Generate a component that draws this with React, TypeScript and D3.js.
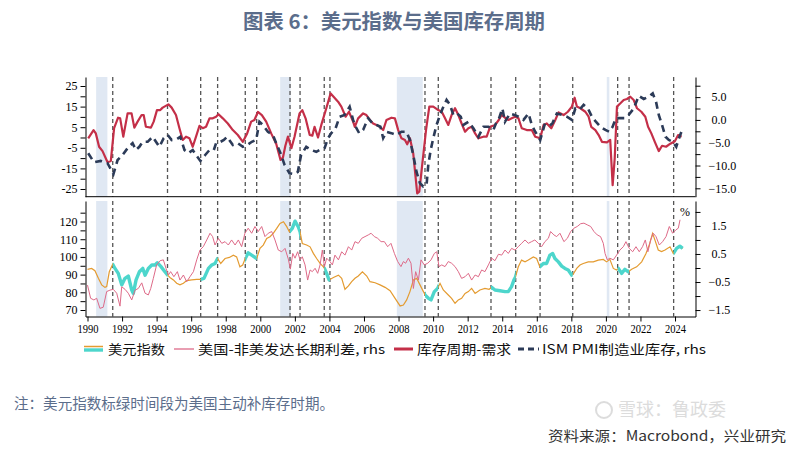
import React, { useEffect, useRef } from 'react';
import * as d3 from 'd3';

type Pt = [number, number];

// 库存周期-需求 (left axis, top panel)
const inventoryCycle: Pt[] = [
  [1990.04, -0.4], [1990.35, 3.6], [1990.48, 2.0], [1990.67, -4.5], [1990.87, -6.6], [1991.16, -12.0],
  [1991.35, -11.4], [1991.54, 4.5], [1991.77, 9.6], [1991.89, 9.3], [1992.07, 0.4], [1992.32, 11.7],
  [1992.55, 11.7], [1992.71, 4.8], [1992.9, 7.7], [1993.13, 10.9], [1993.25, 10.9], [1993.38, 5.2],
  [1993.67, 4.8], [1993.83, 7.7], [1994.02, 13.3], [1994.21, 13.3], [1994.35, 14.5], [1994.68, 16.1],
  [1994.87, 14.5], [1995.12, 10.9], [1995.32, 4.5], [1995.51, -1.2], [1995.7, 0.4], [1995.9, -0.4],
  [1996.09, -4.5], [1996.28, 0.4], [1996.48, 5.7], [1996.67, 4.5], [1996.86, 5.2], [1997.06, 9.3],
  [1997.25, 9.3], [1997.44, 10.1], [1997.58, 11.3], [1997.83, 9.3], [1998.12, 6.8], [1998.41, 3.6],
  [1998.7, 1.2], [1998.99, -2.1], [1999.24, 2.0], [1999.47, 7.7], [1999.66, 8.5], [1999.86, 12.4],
  [2000.09, 10.9], [2000.34, 7.7], [2000.63, 2.0], [2000.92, -3.0], [2001.17, -10.9], [2001.31, -9.7],
  [2001.45, -4.0], [2001.6, 0.4], [2001.8, -5.2], [2001.98, 0.4], [2002.27, 11.7], [2002.43, 13.3],
  [2002.62, 9.3], [2002.86, 1.2], [2003.01, 0.9], [2003.14, 5.2], [2003.34, 0.0], [2003.53, 6.1],
  [2003.82, 14.2], [2004.07, 21.4], [2004.24, 19.8], [2004.5, 17.4], [2004.69, 15.0], [2004.94, 10.1],
  [2005.13, 12.5], [2005.37, 7.7], [2005.47, 5.2], [2005.66, 9.3], [2005.95, 11.7], [2006.14, 10.9],
  [2006.34, 8.5], [2006.53, 6.8], [2006.72, 6.1], [2006.92, 5.2], [2007.11, 3.6], [2007.3, 8.5],
  [2007.59, 9.6], [2007.79, 9.3], [2007.98, 3.6], [2008.17, -0.4], [2008.37, -1.2], [2008.5, -3.3],
  [2008.66, -0.4], [2008.85, -7.7], [2009.08, -27.1], [2009.2, -26.3], [2009.39, -11.7], [2009.59, 3.6],
  [2009.78, 15.0], [2010.01, 15.0], [2010.3, 13.3], [2010.5, 12.5], [2010.69, 9.3], [2010.88, 6.1],
  [2011.07, 10.9], [2011.27, 14.2], [2011.46, 10.9], [2011.65, 6.8], [2011.85, 2.8], [2012.04, 4.5],
  [2012.23, 5.2], [2012.43, 2.0], [2012.62, -0.4], [2012.91, 0.4], [2013.1, 0.4], [2013.3, 5.2],
  [2013.59, 6.1], [2013.8, 8.5], [2013.97, 10.9], [2014.16, 9.6], [2014.36, 8.5], [2014.55, 9.3],
  [2014.75, 10.1], [2014.94, 9.3], [2015.13, 4.5], [2015.42, 3.6], [2015.71, 3.6], [2015.91, 0.4],
  [2016.2, -0.4], [2016.39, 6.1], [2016.58, 6.8], [2016.84, 4.5], [2017.07, 8.5], [2017.26, 12.2],
  [2017.55, 10.9], [2017.8, 12.5], [2018.03, 15.0], [2018.19, 19.3], [2018.32, 15.0], [2018.52, 14.2],
  [2018.81, 12.5], [2019.0, 10.1], [2019.15, 5.2], [2019.39, 3.6], [2019.58, 1.2], [2019.77, -2.1],
  [2020.06, -2.4], [2020.25, -1.2], [2020.39, -23.1], [2020.51, -10.1], [2020.64, 15.0], [2020.84, 16.6],
  [2021.03, 18.2], [2021.22, 18.7], [2021.41, 19.8], [2021.61, 18.2], [2021.8, 14.2], [2022.05, 12.5],
  [2022.28, 10.1], [2022.44, 5.2], [2022.63, 2.0], [2022.83, -2.1], [2023.06, -6.6], [2023.25, -4.0],
  [2023.48, -4.5], [2023.73, -3.0], [2023.99, -1.8], [2024.18, 1.2], [2024.38, 0.4],
];

// ISM PMI制造业库存 (right axis, top panel)
const ismInventory: Pt[] = [
  [1990.04, -7.3], [1990.38, -9.3], [1990.77, -9.0], [1991.16, -9.5], [1991.5, -11.9], [1991.74, -8.8],
  [1992.03, -7.7], [1992.32, -6.2], [1992.61, -5.1], [1992.8, -6.6], [1993.0, -5.9], [1993.19, -4.8],
  [1993.48, -4.8], [1993.77, -3.7], [1994.02, -5.1], [1994.16, -5.9], [1994.41, -4.0], [1994.64, -3.3],
  [1994.87, -4.4], [1995.18, -4.2], [1995.37, -3.7], [1995.61, -6.6], [1995.84, -7.3], [1996.09, -6.6],
  [1996.28, -7.7], [1996.53, -9.0], [1996.81, -7.7], [1997.06, -6.6], [1997.31, -6.6], [1997.44, -5.1],
  [1997.7, -4.8], [1997.89, -4.4], [1998.08, -3.7], [1998.41, -5.5], [1998.7, -5.1], [1998.99, -5.9],
  [1999.24, -5.5], [1999.51, -4.8], [1999.76, -4.4], [1999.95, -0.4], [2000.15, -1.1], [2000.44, -2.6],
  [2000.73, -3.3], [2000.92, -5.1], [2001.17, -7.3], [2001.4, -9.8], [2001.69, -11.7], [2001.98, -11.9],
  [2002.17, -11.4], [2002.36, -7.7], [2002.66, -5.9], [2002.95, -6.6], [2003.24, -7.0], [2003.53, -6.4],
  [2003.72, -6.2], [2003.92, -4.0], [2004.11, -2.9], [2004.36, -1.8], [2004.59, 0.7], [2004.88, 1.1],
  [2005.17, 2.9], [2005.37, 0.0], [2005.52, -1.5], [2005.72, -2.9], [2005.95, -2.2], [2006.24, 0.4],
  [2006.49, -0.7], [2006.72, -1.1], [2006.95, -1.5], [2007.11, -4.0], [2007.3, -2.6], [2007.59, -2.9],
  [2007.88, -3.3], [2008.17, -2.6], [2008.46, -2.6], [2008.66, -4.4], [2008.85, -7.7], [2009.04, -11.4],
  [2009.24, -13.9], [2009.43, -14.6], [2009.62, -14.3], [2009.72, -9.9], [2009.86, -6.6], [2010.01, -4.0],
  [2010.2, -1.1], [2010.4, 1.1], [2010.55, 2.5], [2010.78, 4.4], [2010.98, 3.3], [2011.17, 1.1],
  [2011.37, 1.5], [2011.6, 0.7], [2011.75, -1.1], [2012.04, -0.4], [2012.33, -1.8], [2012.62, -3.7],
  [2012.91, -1.5], [2013.2, -1.5], [2013.49, -2.2], [2013.62, -0.9], [2013.82, 0.4], [2014.01, 2.5],
  [2014.16, -0.4], [2014.45, 1.4], [2014.71, 1.1], [2014.94, 0.7], [2015.23, 0.0], [2015.52, 1.4],
  [2015.71, -1.1], [2015.91, -2.6], [2016.2, -4.4], [2016.45, -1.1], [2016.68, -1.5], [2016.91, -0.7],
  [2017.16, 1.4], [2017.45, 1.1], [2017.74, 0.7], [2018.03, 0.0], [2018.23, 2.5], [2018.46, 2.2],
  [2018.71, 3.3], [2018.96, 2.5], [2019.19, 0.7], [2019.42, -0.4], [2019.68, -1.5], [2019.97, -2.2],
  [2020.2, -2.6], [2020.39, -1.5], [2020.58, 0.4], [2020.84, 0.4], [2021.09, 0.4], [2021.32, 1.1],
  [2021.61, 2.5], [2021.9, 5.3], [2022.19, 4.6], [2022.48, 5.1], [2022.71, 5.8], [2022.9, 4.0],
  [2023.06, 1.1], [2023.25, -1.1], [2023.45, -3.7], [2023.64, -4.4], [2023.87, -4.8], [2024.07, -5.9],
  [2024.26, -3.7], [2024.45, -1.8],
];

// 美元指数 (left axis, bottom panel)
const dollarIndex: Pt[] = [
  [1990.0, 93.0], [1990.24, 93.5], [1990.43, 92.2], [1990.63, 87.9], [1990.82, 84.2], [1991.01, 82.8],
  [1991.11, 83.2], [1991.26, 91.6], [1991.46, 95.9], [1991.59, 93.5], [1991.78, 90.7], [1991.98, 84.2],
  [1992.17, 87.9], [1992.36, 89.2], [1992.56, 81.3], [1992.65, 79.4], [1992.81, 87.0], [1993.0, 91.6],
  [1993.2, 93.5], [1993.33, 89.7], [1993.52, 93.5], [1993.72, 95.4], [1993.91, 95.4], [1994.04, 96.7],
  [1994.23, 94.8], [1994.48, 91.6], [1994.64, 89.7], [1994.77, 88.4], [1994.97, 87.0], [1995.16, 85.1],
  [1995.35, 84.2], [1995.55, 85.1], [1995.74, 86.6], [1996.03, 87.0], [1996.32, 87.3], [1996.55, 87.3],
  [1996.74, 87.9], [1997.0, 93.5], [1997.19, 95.4], [1997.38, 96.3], [1997.53, 99.1], [1997.71, 96.3],
  [1997.96, 99.1], [1998.21, 99.7], [1998.44, 101.0], [1998.63, 100.0], [1998.82, 94.4], [1998.98, 95.4],
  [1999.13, 99.1], [1999.3, 102.3], [1999.5, 101.0], [1999.79, 99.1], [1999.98, 104.8], [2000.17, 106.7],
  [2000.37, 110.4], [2000.56, 111.4], [2000.75, 113.3], [2000.95, 116.1], [2001.14, 118.9], [2001.34, 119.9],
  [2001.53, 117.1], [2001.68, 114.2], [2001.85, 116.1], [2002.01, 120.2], [2002.2, 116.9], [2002.3, 114.2],
  [2002.43, 107.6], [2002.68, 106.7], [2002.88, 105.7], [2003.07, 102.0], [2003.26, 99.1], [2003.46, 96.3],
  [2003.65, 94.4], [2003.71, 93.5], [2003.84, 90.7], [2003.98, 87.0], [2004.23, 88.4], [2004.52, 89.7],
  [2004.71, 87.9], [2004.9, 81.7], [2005.1, 83.6], [2005.29, 86.0], [2005.48, 87.9], [2005.67, 89.2],
  [2005.91, 91.6], [2006.16, 89.2], [2006.35, 86.0], [2006.64, 85.4], [2006.93, 84.2], [2007.22, 82.8],
  [2007.51, 80.9], [2007.8, 76.6], [2008.09, 72.3], [2008.28, 72.8], [2008.47, 75.7], [2008.66, 80.4],
  [2008.86, 87.0], [2009.05, 87.9], [2009.24, 84.2], [2009.44, 80.4], [2009.53, 78.5], [2009.73, 76.6],
  [2009.88, 75.7], [2010.07, 80.4], [2010.26, 82.2], [2010.4, 85.1], [2010.59, 81.3], [2010.88, 78.5],
  [2011.07, 76.6], [2011.27, 73.8], [2011.46, 75.7], [2011.65, 76.6], [2011.85, 79.4], [2012.04, 80.4],
  [2012.23, 82.2], [2012.43, 79.4], [2012.71, 81.3], [2013.0, 82.2], [2013.24, 81.7], [2013.39, 82.8],
  [2013.58, 81.3], [2013.87, 80.9], [2014.16, 80.4], [2014.35, 80.4], [2014.54, 83.2], [2014.68, 87.0],
  [2014.76, 88.4], [2014.93, 94.4], [2015.12, 98.2], [2015.32, 97.2], [2015.51, 98.2], [2015.8, 100.0],
  [2015.99, 99.1], [2016.18, 94.4], [2016.38, 96.3], [2016.57, 96.3], [2016.76, 101.0], [2016.92, 101.9],
  [2017.05, 99.1], [2017.25, 97.2], [2017.44, 94.8], [2017.63, 93.5], [2017.82, 92.6], [2018.02, 89.7],
  [2018.11, 90.3], [2018.31, 93.5], [2018.5, 95.4], [2018.69, 96.3], [2018.98, 97.2], [2019.27, 97.2],
  [2019.56, 98.2], [2019.85, 98.6], [2020.04, 97.2], [2020.23, 98.6], [2020.43, 93.5], [2020.62, 92.6],
  [2020.72, 93.5], [2020.91, 90.7], [2021.1, 93.0], [2021.3, 91.6], [2021.49, 93.0], [2021.78, 94.4],
  [2022.07, 97.2], [2022.32, 101.9], [2022.51, 106.7], [2022.7, 113.3], [2022.84, 109.5], [2023.03, 103.9],
  [2023.22, 103.0], [2023.42, 103.9], [2023.71, 105.7], [2023.9, 101.9], [2024.09, 104.8], [2024.28, 106.1],
  [2024.44, 104.8],
];

// 美国-非美发达长期利差 (right axis, bottom panel)
const rateSpread: Pt[] = [
  [1990.0, -0.61], [1990.18, -1.08], [1990.37, -1.14], [1990.53, -1.08], [1990.72, -1.44], [1990.91, -1.4],
  [1991.11, -0.84], [1991.3, -0.79], [1991.49, -0.76], [1991.69, -0.9], [1991.88, -1.36], [1991.98, -0.67],
  [1992.17, -0.76], [1992.36, -0.9], [1992.56, -1.14], [1992.75, -0.79], [1992.94, -0.73], [1993.14, -0.53],
  [1993.33, -0.9], [1993.52, -0.96], [1993.66, -0.73], [1993.81, -0.37], [1994.0, 0.11], [1994.2, 0.26],
  [1994.39, 0.29], [1994.54, -0.01], [1994.68, -0.25], [1994.81, -0.13], [1995.0, -0.31], [1995.2, -0.13],
  [1995.35, -0.43], [1995.55, -0.25], [1995.74, -0.49], [1995.93, -0.31], [1996.13, -0.13], [1996.32, 0.29],
  [1996.51, 0.64], [1996.7, 0.76], [1996.9, 1.0], [1997.09, 1.24], [1997.24, 1.12], [1997.38, 0.82],
  [1997.57, 1.06], [1997.77, 0.88], [1997.96, 0.94], [1998.15, 0.82], [1998.34, 1.0], [1998.54, 0.82],
  [1998.73, 1.0], [1998.92, 0.76], [1999.11, 1.24], [1999.3, 1.42], [1999.5, 1.24], [1999.69, 1.48],
  [1999.88, 1.3], [2000.08, 1.48], [2000.27, 1.12], [2000.46, 1.24], [2000.66, 1.3], [2000.85, 1.0],
  [2001.04, 0.64], [2001.24, 0.58], [2001.43, 0.7], [2001.62, 0.32], [2001.74, -0.04], [2001.88, 0.52],
  [2002.01, 0.35], [2002.16, 0.58], [2002.3, 0.29], [2002.43, 0.4], [2002.59, 0.11], [2002.74, -0.43],
  [2002.88, -0.07], [2003.01, -0.13], [2003.17, -0.01], [2003.32, -0.19], [2003.46, 0.11], [2003.59, 0.64],
  [2003.71, 0.05], [2003.84, 0.35], [2004.03, 0.23], [2004.17, 0.11], [2004.32, 0.46], [2004.52, 0.29],
  [2004.71, 0.58], [2004.9, 0.46], [2005.1, 0.76], [2005.29, 0.64], [2005.48, 0.94], [2005.67, 0.88],
  [2005.87, 1.06], [2006.06, 1.12], [2006.25, 1.18], [2006.41, 1.24], [2006.6, 1.12], [2006.79, 1.06],
  [2006.99, 0.94], [2007.18, 0.94], [2007.37, 0.76], [2007.56, 0.88], [2007.76, 0.52], [2007.95, 0.23],
  [2008.14, 0.05], [2008.28, 0.23], [2008.41, 0.17], [2008.57, 0.35], [2008.72, 0.17], [2008.86, -0.73],
  [2008.99, -0.13], [2009.15, -0.43], [2009.3, 0.29], [2009.49, 0.11], [2009.69, 0.17], [2009.88, 0.29],
  [2010.07, 0.52], [2010.21, 0.58], [2010.34, 0.05], [2010.5, 0.11], [2010.69, 0.05], [2010.88, 0.23],
  [2011.07, 0.17], [2011.27, 0.05], [2011.46, -0.13], [2011.65, -0.37], [2011.85, -0.31], [2012.04, -0.19],
  [2012.23, -0.43], [2012.43, -0.25], [2012.62, -0.31], [2012.81, -0.07], [2013.0, -0.13], [2013.2, 0.11],
  [2013.39, 0.35], [2013.58, 0.26], [2013.78, 0.49], [2013.97, 0.46], [2014.16, 0.64], [2014.35, 0.52],
  [2014.54, 0.7], [2014.74, 0.64], [2014.93, 0.76], [2015.12, 0.88], [2015.32, 1.0], [2015.51, 0.88],
  [2015.7, 0.94], [2015.89, 1.0], [2016.09, 0.88], [2016.28, 0.76], [2016.47, 0.94], [2016.67, 1.06],
  [2016.8, 1.3], [2016.99, 1.18], [2017.15, 1.12], [2017.34, 1.24], [2017.57, 0.94], [2017.77, 1.06],
  [2017.96, 1.3], [2018.15, 1.42], [2018.34, 1.48], [2018.54, 1.58], [2018.73, 1.6], [2018.92, 1.54],
  [2019.12, 1.48], [2019.31, 1.3], [2019.5, 1.18], [2019.69, 1.12], [2019.85, 0.88], [2019.95, 0.52],
  [2020.08, 0.29], [2020.23, 0.35], [2020.43, 0.29], [2020.62, 0.46], [2020.81, 0.64], [2021.01, 0.76],
  [2021.16, 0.94], [2021.35, 0.7], [2021.55, 0.58], [2021.74, 0.76], [2021.93, 0.58], [2022.12, 0.76],
  [2022.28, 1.0], [2022.43, 0.58], [2022.59, 1.0], [2022.74, 1.24], [2022.9, 1.12], [2023.09, 0.82],
  [2023.28, 0.94], [2023.48, 1.12], [2023.67, 1.48], [2023.86, 1.24], [2024.05, 1.36], [2024.19, 1.42],
  [2024.29, 1.72],
];

// 美国主动补库存时期 (start, end); last one still running
const restockPeriods: [number, number | null][] = [
  [1991.46, 1994.63], [1996.55, 1997.53], [1999.13, 1999.79], [2001.72, 2002.3], [2003.7, 2004.03],
  [2009.53, 2010.3], [2013.35, 2014.78], [2016.19, 2018.08], [2020.68, 2021.34], [2023.92, null],
];

// 美国衰退 (shaded)
const recessions: [number, number][] = [
  [1990.5, 1991.15], [2001.15, 2001.75], [2007.9, 2009.4], [2020.05, 2020.2],
];

const yearTicks = [1990, 1992, 1994, 1996, 1998, 2000, 2002, 2004, 2006, 2008, 2010, 2012, 2014, 2016, 2018, 2020, 2022, 2024];
const topLeftTicks = [-25, -20, -15, -10, -5, 0, 5, 10, 15, 20, 25];
const topLeftLabels = [-25, -15, -5, 5, 15, 25];
const topRightTicks = [-15, -12.5, -10, -7.5, -5, -2.5, 0, 2.5, 5, 7.5];
const topRightLabels = [-15, -10, -5, 0, 5];
const botLeftTicks = [70, 75, 80, 85, 90, 95, 100, 105, 110, 115, 120, 125];
const botLeftLabels = [70, 80, 90, 100, 110, 120];
const botRightTicks = [-1.5, -1, -0.5, 0, 0.5, 1, 1.5, 2];
const botRightLabels = [-1.5, -0.5, 0.5, 1.5];

const C = {
  red: '#c42f48',
  navy: '#2c3b58',
  orange: '#e49b30',
  green: '#4dd6cc',
  pink: '#de6a88',
  band: '#e0e8f3',
  grid: '#555',
  title: '#5b6d8b',
};

const SERIF = '"Liberation Serif", "Times New Roman", serif';
const CJK = '"Noto Sans CJK SC", "Noto Sans", sans-serif';

export default function App() {
  const svgRef = useRef<SVGSVGElement>(null);

  useEffect(() => {
    if (!svgRef.current) return;
    const svg = d3.select(svgRef.current);
    svg.selectAll('*').remove();

    const X0 = 85.5;
    const X1 = 695.5;
    const top = { y0: 77, y1: 196.7 };
    const bot = { y0: 201, y1: 316.5 };

    const x = d3.scaleLinear().domain([1989.884, 2025.185]).range([X0, X1]);
    const yTL = d3.scaleLinear().domain([-28.74, 29.37]).range([top.y1, top.y0]);
    const yTR = d3.scaleLinear().domain([-16.84, 9.41]).range([top.y1, top.y0]);
    const yBL = d3.scaleLinear().domain([66.33, 131.6]).range([bot.y1, bot.y0]);
    const yBR = d3.scaleLinear().domain([-1.73, 2.39]).range([bot.y1, bot.y0]);

    svg.append('rect').attr('width', 789).attr('height', 452).attr('fill', '#fff');

    // Title
    svg.append('text')
      .attr('x', 394).attr('y', 28.5)
      .attr('text-anchor', 'middle')
      .attr('font-family', CJK).attr('font-size', 20).attr('font-weight', 'bold')
      .attr('fill', C.title)
      .attr('textLength', 302).attr('lengthAdjust', 'spacingAndGlyphs')
      .text('图表 6：美元指数与美国库存周期');

    const lastYear = d3.max(dollarIndex, (d) => d[0]) as number;

    // clip path for green restocking segments
    const defs = svg.append('defs');
    const clip = defs.append('clipPath').attr('id', 'restock-clip');
    restockPeriods.forEach(([s, e]) => {
      clip.append('rect')
        .attr('x', x(s)).attr('y', bot.y0)
        .attr('width', x(e ?? lastYear + 0.2) - x(s)).attr('height', bot.y1 - bot.y0);
    });

    [top, bot].forEach((p) => {
      const g = svg.append('g');
      // recession bands
      g.selectAll('rect.band')
        .data(recessions)
        .enter()
        .append('rect')
        .attr('x', (d) => x(d[0]))
        .attr('y', p.y0)
        .attr('width', (d) => x(d[1]) - x(d[0]))
        .attr('height', p.y1 - p.y0)
        .attr('fill', C.band);
      // restocking boundary lines
      const bounds: number[] = [];
      restockPeriods.forEach(([s, e]) => {
        bounds.push(s);
        if (e !== null) bounds.push(e);
      });
      g.selectAll('line.grid')
        .data(bounds)
        .enter()
        .append('line')
        .attr('x1', (d) => x(d)).attr('x2', (d) => x(d))
        .attr('y1', p.y0).attr('y2', p.y1)
        .attr('stroke', C.grid).attr('stroke-width', 1.3)
        .attr('stroke-dasharray', '4,3');
    });

    const line = (ys: d3.ScaleLinear<number, number>) =>
      d3.line<Pt>().x((d) => x(d[0])).y((d) => ys(d[1]));

    // Top panel lines
    svg.append('path')
      .attr('d', line(yTL)(inventoryCycle) as string)
      .attr('fill', 'none').attr('stroke', C.red).attr('stroke-width', 2.2)
      .attr('stroke-linejoin', 'round');
    svg.append('path')
      .attr('d', line(yTR)(ismInventory) as string)
      .attr('fill', 'none').attr('stroke', C.navy).attr('stroke-width', 2.6)
      .attr('stroke-dasharray', '7,5');

    // Bottom panel lines
    svg.append('path')
      .attr('d', line(yBL)(dollarIndex) as string)
      .attr('fill', 'none').attr('stroke', C.orange).attr('stroke-width', 1.2);
    svg.append('path')
      .attr('d', line(yBL)(dollarIndex) as string)
      .attr('clip-path', 'url(#restock-clip)')
      .attr('fill', 'none').attr('stroke', C.green).attr('stroke-width', 3.4)
      .attr('stroke-linejoin', 'round');
    svg.append('path')
      .attr('d', line(yBR)(rateSpread) as string)
      .attr('fill', 'none').attr('stroke', C.pink).attr('stroke-width', 1);

    // Axes
    const styleAxis = (g: d3.Selection<SVGGElement, unknown, null, undefined>) => {
      g.select('.domain').attr('stroke', '#000').attr('stroke-width', 1);
      g.selectAll('.tick line').attr('stroke', '#000');
      g.selectAll('.tick text')
        .attr('font-family', SERIF).attr('font-size', 12).attr('fill', '#000');
    };
    const fmtInt = (labels: number[]) => (v: d3.NumberValue) =>
      labels.includes(+v) ? String(v) : '';
    const fmtDec = (labels: number[]) => (v: d3.NumberValue) =>
      labels.includes(+v) ? d3.format('.1f')(+v) : '';

    svg.append('g')
      .attr('transform', `translate(${X0},0)`)
      .call(d3.axisLeft(yTL).tickValues(topLeftTicks).tickSize(5).tickSizeOuter(0).tickPadding(3)
        .tickFormat(fmtInt(topLeftLabels)))
      .call(styleAxis);
    const tr = svg.append('g')
      .attr('transform', `translate(${X1},0)`)
      .call(d3.axisRight(yTR).tickValues(topRightTicks).tickSize(5).tickSizeOuter(0).tickPadding(8)
        .tickFormat(fmtDec(topRightLabels)))
      .call(styleAxis);
    tr.selectAll<SVGTextElement, number>('.tick text').attr('dx', (d) => (d >= 0 ? 3 : 0));

    svg.append('line')
      .attr('x1', X0).attr('x2', X1).attr('y1', top.y1).attr('y2', top.y1)
      .attr('stroke', '#000').attr('stroke-width', 1);

    svg.append('g')
      .attr('transform', `translate(${X0},0)`)
      .call(d3.axisLeft(yBL).tickValues(botLeftTicks).tickSize(5).tickSizeOuter(0).tickPadding(3)
        .tickFormat(fmtInt(botLeftLabels)))
      .call(styleAxis);
    const br = svg.append('g')
      .attr('transform', `translate(${X1},0)`)
      .call(d3.axisRight(yBR).tickValues(botRightTicks).tickSize(5).tickSizeOuter(0).tickPadding(8)
        .tickFormat(fmtDec(botRightLabels)))
      .call(styleAxis);
    br.selectAll<SVGTextElement, number>('.tick text').attr('dx', (d) => (d >= 0 ? 3 : 0));

    const xa = svg.append('g')
      .attr('transform', `translate(0,${bot.y1})`)
      .call(d3.axisBottom(x).tickValues(yearTicks).tickSize(5).tickSizeOuter(0).tickPadding(3)
        .tickFormat((v) => String(v)))
      .call(styleAxis);
    xa.selectAll('.tick text').attr('textLength', 21).attr('lengthAdjust', 'spacingAndGlyphs');

    svg.append('text')
      .attr('x', 685).attr('y', 216)
      .attr('text-anchor', 'middle')
      .attr('font-family', SERIF).attr('font-size', 12)
      .text('%');

    // Legend
    const lg = svg.append('g').attr('font-family', CJK).attr('font-size', 13).attr('fill', '#111');
    const ly = 349;
    lg.append('line').attr('x1', 84).attr('x2', 103).attr('y1', ly - 2.5).attr('y2', ly - 2.5)
      .attr('stroke', C.orange).attr('stroke-width', 1.5);
    lg.append('line').attr('x1', 84).attr('x2', 103).attr('y1', ly + 1).attr('y2', ly + 1)
      .attr('stroke', C.green).attr('stroke-width', 3.4);
    lg.append('text').attr('x', 108).attr('y', ly + 4.5)
      .attr('textLength', 57).attr('lengthAdjust', 'spacingAndGlyphs').text('美元指数');
    lg.append('line').attr('x1', 174).attr('x2', 194).attr('y1', ly).attr('y2', ly)
      .attr('stroke', C.pink).attr('stroke-width', 1.3);
    lg.append('text').attr('x', 198).attr('y', ly + 4.5)
      .attr('textLength', 187).attr('lengthAdjust', 'spacingAndGlyphs').text('美国-非美发达长期利差, rhs');
    lg.append('line').attr('x1', 394).attr('x2', 413).attr('y1', ly).attr('y2', ly)
      .attr('stroke', C.red).attr('stroke-width', 3);
    lg.append('text').attr('x', 417).attr('y', ly + 4.5)
      .attr('textLength', 94).attr('lengthAdjust', 'spacingAndGlyphs').text('库存周期-需求');
    lg.append('line').attr('x1', 518).attr('x2', 539).attr('y1', ly).attr('y2', ly)
      .attr('stroke', C.navy).attr('stroke-width', 3).attr('stroke-dasharray', '6,4');
    lg.append('text').attr('x', 542).attr('y', ly + 4.5)
      .attr('textLength', 164).attr('lengthAdjust', 'spacingAndGlyphs').text('ISM PMI制造业库存, rhs');

    // Note and source
    svg.append('text')
      .attr('x', 14).attr('y', 409)
      .attr('font-family', CJK).attr('font-size', 14.5).attr('fill', C.title)
      .attr('textLength', 320).attr('lengthAdjust', 'spacingAndGlyphs')
      .text('注：美元指数标绿时间段为美国主动补库存时期。');
    svg.append('text')
      .attr('x', 548).attr('y', 441)
      .attr('font-family', CJK).attr('font-size', 14).attr('fill', '#333')
      .attr('textLength', 238).attr('lengthAdjust', 'spacingAndGlyphs')
      .text('资料来源：Macrobond，兴业研究');

    // watermark (kept just above the source line)
    const wm = svg.append('g').attr('opacity', 0.5);
    wm.append('circle').attr('cx', 604).attr('cy', 410).attr('r', 8)
      .attr('fill', 'none').attr('stroke', '#bbb').attr('stroke-width', 2);
    wm.append('text').attr('x', 618).attr('y', 416)
      .attr('font-family', CJK).attr('font-size', 18).attr('fill', '#bbb')
      .text('雪球：鲁政委');
  }, []);

  return (
    <div style={{ position: 'absolute', left: 0, top: 0, width: 789, height: 452, background: '#fff' }}>
      <svg ref={svgRef} width={789} height={452} style={{ display: 'block' }} />
    </div>
  );
}
